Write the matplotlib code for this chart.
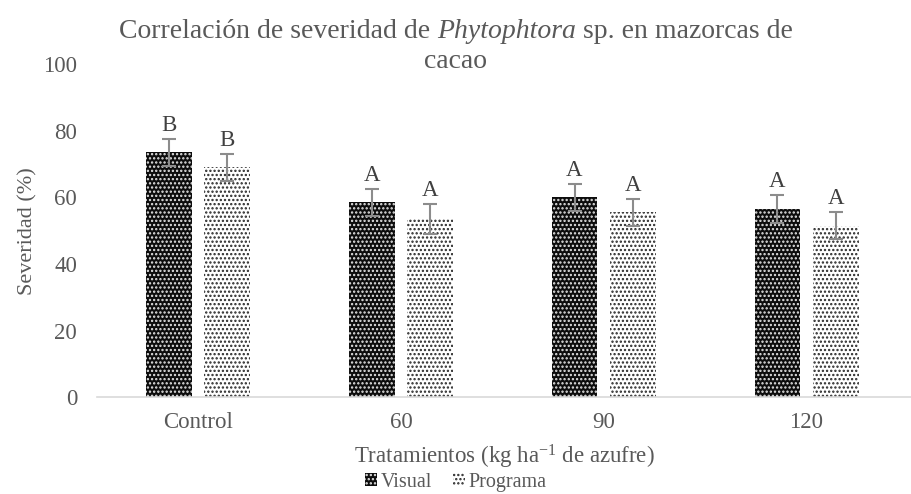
import matplotlib.pyplot as plt
import numpy as np

# data
categorias = ["Control", "60", "90", "120"]
visual = [73.5, 58.5, 60.0, 56.5]
visual_err = [4.0, 4.0, 4.0, 4.2]
programa = [69.0, 53.5, 55.5, 51.5]
programa_err = [4.0, 4.4, 4.0, 4.0]
letras_visual = ["B", "A", "A", "A"]
letras_programa = ["B", "A", "A", "A"]

plt.rcParams['font.family'] = ['Liberation Serif', 'DejaVu Serif']
plt.rcParams['mathtext.fontset'] = 'custom'
plt.rcParams['mathtext.rm'] = 'Liberation Serif'
plt.rcParams['mathtext.default'] = 'regular'
plt.rcParams['hatch.linewidth'] = 1.1

gris = '#595959'

fig = plt.figure(figsize=(9.12, 4.94), dpi=100)
ax = fig.add_axes([0.106, 0.196, 0.894, 0.674])

x = np.arange(len(categorias))
w = 0.225
off = 0.144

b1 = ax.bar(x - off, visual, w, color='#0d0d0d', edgecolor='#e6e6e6', hatch='....', lw=0,
            label='Visual')
b2 = ax.bar(x + off, programa, w, color='white', edgecolor='#262626', hatch='....', lw=0,
            label='Programa')
ax.errorbar(x - off, visual, yerr=visual_err, fmt='none', ecolor='#8c8c8c', elinewidth=1.5,
            capsize=5, capthick=1.5)
ax.errorbar(x + off, programa, yerr=programa_err, fmt='none', ecolor='#8c8c8c', elinewidth=1.5,
            capsize=5, capthick=1.5)

for i in range(len(categorias)):
    ax.text(x[i] - off, visual[i] + visual_err[i] + 1.0, letras_visual[i], ha='center',
            va='bottom', fontsize=16.5, color='#404040')
    ax.text(x[i] + off, programa[i] + programa_err[i] + 1.0, letras_programa[i], ha='center',
            va='bottom', fontsize=16.5, color='#404040')

ax.set_xlim(-0.5, 3.52)
ax.set_ylim(0, 100)
ax.set_yticks(range(0, 101, 20))
ax.set_xticks(x)
ax.set_xticklabels(categorias)
ax.tick_params(axis='both', length=0, labelsize=16.5, labelcolor=gris)
ax.tick_params(axis='y', pad=14)
ax.tick_params(axis='x', pad=11)
for s in ['top', 'right', 'left']:
    ax.spines[s].set_visible(False)
ax.spines['bottom'].set_color('#d9d9d9')
ax.spines['bottom'].set_linewidth(1.2)

ax.set_ylabel("Severidad (%)", fontsize=16, color=gris, labelpad=4)
ax.set_xlabel("Tratamientos (kg ha$^{-1}$ de azufre)", fontsize=16.5, color=gris, labelpad=7)

# title in pieces so only the genus is italic
partes = [("Correlación de severidad de ", 'normal'), ("Phytophtora", 'italic'),
          (" sp. en mazorcas de", 'normal')]
r = fig.canvas.get_renderer()
textos = [fig.text(0, 0.937, t, fontsize=20, style=s, color=gris, va='center') for t, s in partes]
anchos = [t.get_window_extent(r).width / fig.bbox.width for t in textos]
xpos = 0.5 - sum(anchos) / 2
for t, a in zip(textos, anchos):
    t.set_x(xpos)
    xpos += a
fig.text(0.5, 0.875, "cacao", fontsize=20, color=gris, ha='center', va='center')

fig.legend(handles=[b1, b2], loc='lower center', bbox_to_anchor=(0.5, -0.032), ncol=2,
           frameon=False, fontsize=14.5, handlelength=0.6, handleheight=0.6, handletextpad=0.2,
           columnspacing=1.0, labelcolor=gris)

fig.savefig('out.png', dpi=100)
